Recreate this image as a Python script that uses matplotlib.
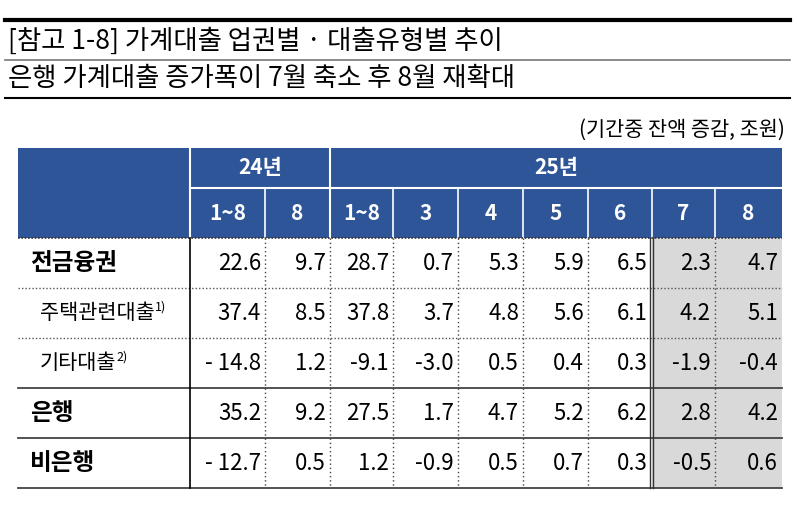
import matplotlib.pyplot as plt
from matplotlib.patches import Rectangle

plt.rcParams['font.family'] = ['Noto Sans CJK KR', 'DejaVu Sans']

title1 = "[참고 1-8] 가계대출 업권별 · 대출유형별 추이"
title2 = "은행 가계대출 증가폭이 7월 축소 후 8월 재확대"
unit = "(기간중 잔액 증감, 조원)"
years = ["24년", "25년"]
periods = ["1~8", "8", "1~8", "3", "4", "5", "6", "7", "8"]
rows = ["전금융권", "주택관련대출", "기타대출", "은행", "비은행"]
sups = ["", "1)", "2)", "", ""]
bold_rows = [True, False, False, True, True]
values = [
    [22.6, 9.7, 28.7, 0.7, 5.3, 5.9, 6.5, 2.3, 4.7],
    [37.4, 8.5, 37.8, 3.7, 4.8, 5.6, 6.1, 4.2, 5.1],
    [-14.8, 1.2, -9.1, -3.0, 0.5, 0.4, 0.3, -1.9, -0.4],
    [35.2, 9.2, 27.5, 1.7, 4.7, 5.2, 6.2, 2.8, 4.2],
    [-12.7, 0.5, 1.2, -0.9, 0.5, 0.7, 0.3, -0.5, 0.6],
]

blue = '#2E5597'
fig = plt.figure(figsize=(8, 5.05), dpi=100)
ax = fig.add_axes([0, 0, 1, 1])
ax.set_xlim(0, 800)
ax.set_ylim(505, 0)
ax.axis('off')

# titles
ax.plot([5, 790], [20, 20], color='black', lw=3)
ax.text(8, 41, title1, fontsize=19, va='center', ha='left', fontweight='medium')
ax.plot([5, 790], [60, 60], color='#777777', lw=1.2)
ax.text(8, 79, title2, fontsize=19, va='center', ha='left', fontweight='medium')
ax.plot([5, 790], [98, 98], color='black', lw=1.5)
ax.text(785, 130, unit, fontsize=15, va='center', ha='right')

xs = [18, 190, 265, 330, 393, 458, 523, 588, 652, 715, 782]
head_top, head_mid, head_bot = 148, 188, 238
row_h = 50

# header
ax.add_patch(Rectangle((xs[0], head_top), xs[-1] - xs[0], head_bot - head_top, color=blue, lw=0))
ax.plot([xs[1], xs[-1]], [head_mid, head_mid], color='white', lw=1.5)
ax.plot([xs[1], xs[1]], [head_top, head_bot], color='white', lw=1.5)
ax.plot([xs[3], xs[3]], [head_top, head_bot], color='white', lw=1.5)
for x in xs[2:-1]:
    ax.plot([x, x], [head_mid, head_bot], color='white', lw=1.2)
ax.text((xs[1] + xs[3]) / 2, (head_top + head_mid) / 2, years[0], color='white',
        fontsize=15, ha='center', va='center', fontweight='bold')
ax.text((xs[3] + xs[-1]) / 2, (head_top + head_mid) / 2, years[1], color='white',
        fontsize=15, ha='center', va='center', fontweight='bold')
for i, p in enumerate(periods):
    ax.text((xs[i + 1] + xs[i + 2]) / 2, (head_mid + head_bot) / 2, p, color='white',
            fontsize=15, ha='center', va='center', fontweight='bold')

# body
body_bot = head_bot + row_h * len(rows)
ax.add_patch(Rectangle((xs[8], head_bot), xs[-1] - xs[8], body_bot - head_bot, color='#D9D9D9', lw=0))
ax.plot([xs[0], xs[-1]], [head_bot, head_bot], color='#333333', lw=1.2, ls=(0, (1, 1)))
for r, (name, sup, b, vals) in enumerate(zip(rows, sups, bold_rows, values)):
    yc = head_bot + row_h * (r + 0.5)
    xl = 30 if b else 40
    t = ax.text(xl, yc, name, fontsize=17 if b else 15, ha='left', va='center',
                fontweight='bold' if b else 'normal')
    if sup:
        ax.annotate(sup, xy=(1, 0.75), xycoords=t, fontsize=9, va='center', ha='left')
    for i, v in enumerate(vals):
        s = f"{v:.1f}"
        if v < 0 and abs(v) >= 10:
            s = "- " + f"{-v:.1f}"
        ax.text(xs[i + 2] - 4, yc, s, fontsize=16, ha='right', va='center')
    ytop = head_bot + row_h * (r + 1)
    if r < len(rows) - 1:
        if r in (0, 1):
            ax.plot([xs[0], xs[-1]], [ytop, ytop], color='#555555', lw=1, ls=(0, (1, 1.5)))
        else:
            ax.plot([xs[0], xs[-1]], [ytop, ytop], color='#444444', lw=1.3)
ax.plot([xs[0], xs[-1]], [body_bot, body_bot], color='#444444', lw=1.3)

ax.plot([xs[1], xs[1]], [head_bot, body_bot], color='black', lw=1.2)
for x in xs[2:-1]:
    if x == xs[8]:
        ax.plot([x - 2, x - 2], [head_bot, body_bot], color='#333333', lw=1)
        ax.plot([x + 1, x + 1], [head_bot, body_bot], color='#333333', lw=1)
    else:
        ax.plot([x, x], [head_bot, body_bot], color='#444444', lw=1, ls=(0, (1, 2)))

fig.savefig('out.png', dpi=100)
